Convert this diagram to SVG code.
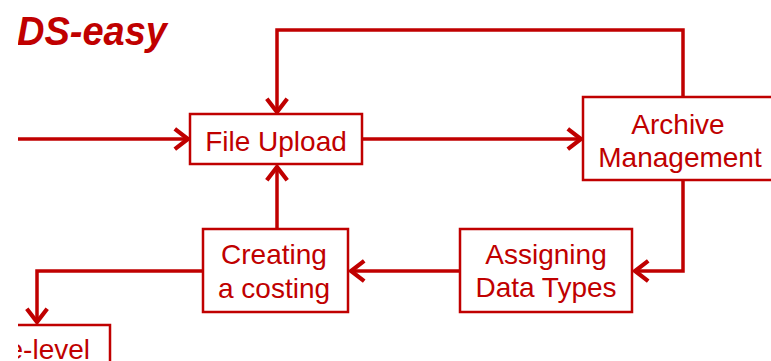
<svg xmlns="http://www.w3.org/2000/svg" width="771" height="361" viewBox="0 0 771 361">
<style>
.box{fill:#fff;stroke:#c00000;stroke-width:2.5}
.lbl{font-family:"Liberation Sans",Arial,sans-serif;font-size:28px;fill:#c00000;text-anchor:middle}
.con{fill:none;stroke:#c00000;stroke-width:3.5;stroke-linejoin:miter}
.title{font-family:"Liberation Sans",Arial,sans-serif;font-size:41px;font-weight:bold;font-style:italic;fill:#c00000}
</style>
<defs>
<marker id="arr" markerUnits="userSpaceOnUse" markerWidth="24" markerHeight="24" viewBox="-14 -10 16 20" refX="0" refY="0" orient="auto">
<path d="M-11,-8.5 L0,0 L-11,8.5" fill="none" stroke="#c00000" stroke-width="3.5"/>
</marker>
<clipPath id="crop"><rect x="18" y="0" width="753" height="361"/></clipPath>
</defs>
<rect width="771" height="361" fill="#fff"/>
<g clip-path="url(#crop)">
<text class="title" x="17" y="45" textLength="150" lengthAdjust="spacingAndGlyphs">DS-easy</text>
<g id="connectors">
<path class="con" d="M18,139 H188" marker-end="url(#arr)"/>
<path class="con" d="M362,139 H581" marker-end="url(#arr)"/>
<path class="con" d="M683,97 V30 H277 V112" marker-end="url(#arr)"/>
<path class="con" d="M683,180 V271 H635" marker-end="url(#arr)"/>
<path class="con" d="M460,271 H351" marker-end="url(#arr)"/>
<path class="con" d="M277,229 V167" marker-end="url(#arr)"/>
<path class="con" d="M203,271 H37 V322" marker-end="url(#arr)"/>
</g>
<g id="file-upload">
<rect class="box" x="190" y="114" width="172" height="50"/>
<text class="lbl" x="276" y="151">File Upload</text>
</g>
<g id="archive-management">
<rect class="box" x="583" y="97" width="200" height="83"/>
<text class="lbl" x="678" y="134">Archive</text>
<text class="lbl" x="680" y="167">Management</text>
</g>
<g id="assigning-data-types">
<rect class="box" x="460" y="229" width="172" height="83"/>
<text class="lbl" x="546" y="264">Assigning</text>
<text class="lbl" x="546" y="297">Data Types</text>
</g>
<g id="creating-a-costing">
<rect class="box" x="203" y="229" width="145" height="83"/>
<text class="lbl" x="274" y="264">Creating</text>
<text class="lbl" x="274" y="298">a costing</text>
</g>
<g id="level-box">
<rect class="box" x="-50" y="325" width="160" height="60"/>
<text class="lbl" x="90" y="359" style="text-anchor:end">e-level</text>
</g>
</g>
</svg>
